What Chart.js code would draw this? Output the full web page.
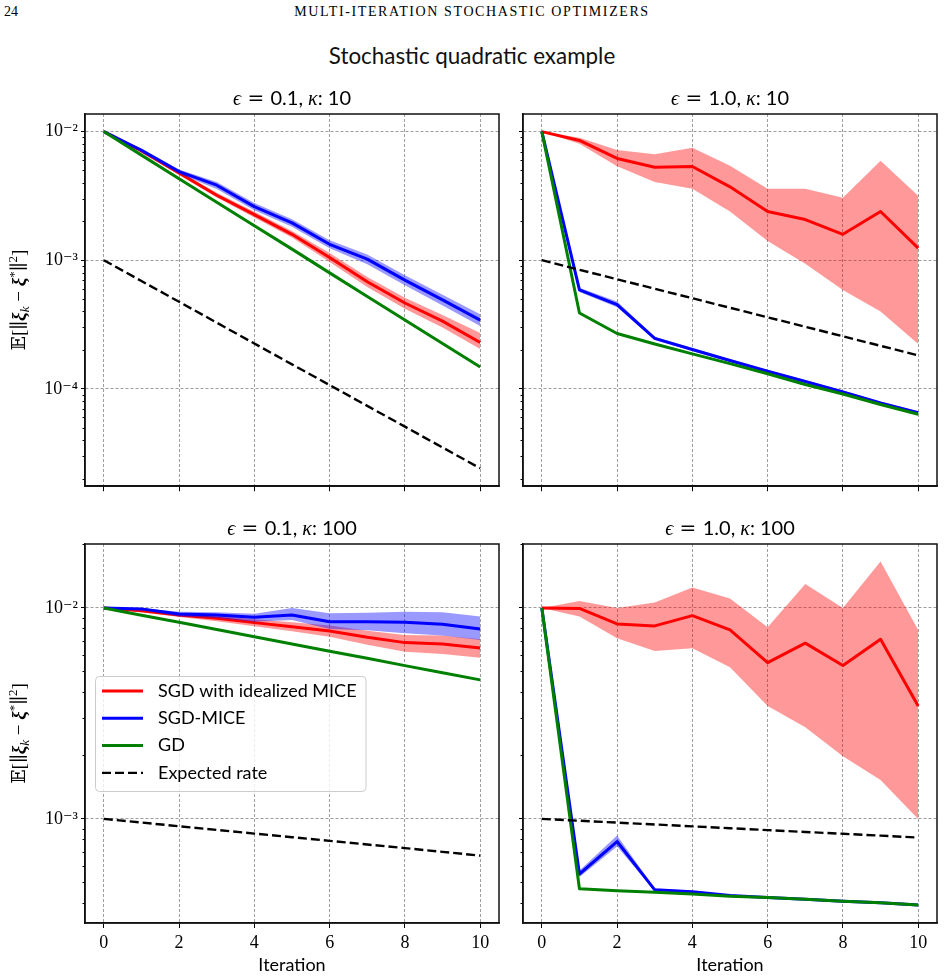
<!DOCTYPE html>
<html>
<head>
<meta charset="utf-8">
<title>Stochastic quadratic example</title>
<script src="https://cdn.jsdelivr.net/npm/chart.js@4/dist/chart.umd.min.js"></script>
<style>
  html, body { margin: 0; padding: 0; background: #fff; }
  body { position: relative; width: 944px; height: 978px; overflow: hidden; }
  canvas { position: absolute; }
  .head { position: absolute; top: 4px; font-family: "Liberation Serif", serif; font-size: 14px; line-height: 16px; color: #000; }
  #pageno { left: 4px; }
  #runhead { left: 0; width: 944px; text-align: center; letter-spacing: 1.6px; }
  #suptitle { position: absolute; left: 0; width: 944px; top: 43px; text-align: center; font-family: Lato, sans-serif; font-size: 22.4px; line-height: 26px; color: #111; }
</style>
</head>
<body>
<div class="head" id="pageno">24</div>
<div class="head" id="runhead">MULTI-ITERATION STOCHASTIC OPTIMIZERS</div>
<div id="suptitle">Stochastic quadratic example</div>
<canvas id="c0" width="510" height="430" style="left:0px;top:70px"></canvas>
<canvas id="c1" width="434" height="430" style="left:510px;top:70px"></canvas>
<canvas id="c2" width="510" height="478" style="left:0px;top:500px"></canvas>
<canvas id="c3" width="434" height="478" style="left:510px;top:500px"></canvas>
<script>
"use strict";

const iterations = [0, 1, 2, 3, 4, 5, 6, 7, 8, 9, 10];
const xTicks = [0, 2, 4, 6, 8, 10];
const decadeTicks = [1e-5, 1e-4, 1e-3, 1e-2, 1e-1];
const decadeLabels = ["10\u207B\u2075", "10\u207B\u2074", "10\u207B\u00B3", "10\u207B\u00B2", "10\u207B\u00B9"];
const epsilons = ["0.1", "1.0", "0.1", "1.0"];
const kappas = ["10", "10", "100", "100"];
const seriesNames = ["SGD with idealized MICE", "SGD-MICE", "GD", "Expected rate"];

// y limits of the two rows
const yLimitsTop = [1.75e-5, 1.37e-2];
const yLimitsBottom = [3.21e-4, 2.01e-2];

// eps = 0.1, kappa = 10
const ideal1 = [1.0e-2, 7.07e-3, 4.76e-3, 3.2e-3, 2.26e-3, 1.59e-3, 1.05e-3, 6.8e-4, 4.65e-4, 3.36e-4, 2.29e-4];
const idealLow1 = [1.0e-2, 6.9e-3, 4.6e-3, 3.07e-3, 2.15e-3, 1.5e-3, 9.7e-4, 6.2e-4, 4.2e-4, 3.0e-4, 2.04e-4];
const idealHigh1 = [1.0e-2, 7.25e-3, 4.92e-3, 3.34e-3, 2.38e-3, 1.69e-3, 1.14e-3, 7.4e-4, 5.1e-4, 3.75e-4, 2.72e-4];
const mice1 = [1.0e-2, 7.16e-3, 4.89e-3, 3.83e-3, 2.61e-3, 1.95e-3, 1.33e-3, 1.02e-3, 7.0e-4, 4.92e-4, 3.42e-4];
const miceLow1 = [1.0e-2, 6.95e-3, 4.7e-3, 3.58e-3, 2.45e-3, 1.82e-3, 1.24e-3, 9.3e-4, 6.4e-4, 4.45e-4, 3.08e-4];
const miceHigh1 = [1.0e-2, 7.38e-3, 5.08e-3, 4.05e-3, 2.78e-3, 2.08e-3, 1.43e-3, 1.11e-3, 7.65e-4, 5.4e-4, 3.8e-4];
const gd1 = [1.0e-2, 6.56e-3, 4.3e-3, 2.82e-3, 1.85e-3, 1.22e-3, 7.97e-4, 5.23e-4, 3.43e-4, 2.25e-4, 1.48e-4];
const rate1 = [1.0e-3, 6.89e-4, 4.75e-4, 3.27e-4, 2.25e-4, 1.55e-4, 1.07e-4, 7.37e-5, 5.08e-5, 3.5e-5, 2.41e-5];

// eps = 1.0, kappa = 10
const ideal2 = [1.0e-2, 8.53e-3, 6.18e-3, 5.28e-3, 5.35e-3, 3.72e-3, 2.39e-3, 2.07e-3, 1.59e-3, 2.39e-3, 1.24e-3];
const idealLow2 = [1.0e-2, 8.05e-3, 5.37e-3, 4.06e-3, 3.6e-3, 2.39e-3, 1.41e-3, 9.37e-4, 5.87e-4, 4.0e-4, 2.23e-4];
const idealHigh2 = [1.0e-2, 8.95e-3, 7.2e-3, 6.67e-3, 7.5e-3, 5.43e-3, 3.6e-3, 3.6e-3, 3.06e-3, 5.94e-3, 3.17e-3];
const mice2 = [1.0e-2, 5.87e-4, 4.51e-4, 2.47e-4, 2.02e-4, 1.66e-4, 1.37e-4, 1.14e-4, 9.44e-5, 7.78e-5, 6.52e-5];
const miceLow2 = [1.0e-2, 5.65e-4, 4.3e-4, 2.4e-4, 1.97e-4, 1.62e-4, 1.34e-4, 1.11e-4, 9.2e-5, 7.6e-5, 6.35e-5];
const miceHigh2 = [1.0e-2, 6.1e-4, 4.78e-4, 2.54e-4, 2.07e-4, 1.7e-4, 1.4e-4, 1.17e-4, 9.7e-5, 7.95e-5, 6.7e-5];
const gd2 = [1.0e-2, 3.89e-4, 2.69e-4, 2.23e-4, 1.87e-4, 1.57e-4, 1.31e-4, 1.08e-4, 9.11e-5, 7.55e-5, 6.34e-5];
const rate2 = [1.0e-3, 8.43e-4, 7.11e-4, 6.0e-4, 5.06e-4, 4.27e-4, 3.6e-4, 3.04e-4, 2.56e-4, 2.16e-4, 1.82e-4];

// eps = 0.1, kappa = 100
const ideal3 = [1.0e-2, 9.71e-3, 9.27e-3, 8.93e-3, 8.52e-3, 8.15e-3, 7.78e-3, 7.26e-3, 6.85e-3, 6.75e-3, 6.46e-3];
const idealLow3 = [1.0e-2, 9.55e-3, 9.05e-3, 8.65e-3, 8.2e-3, 7.75e-3, 7.3e-3, 6.7e-3, 6.2e-3, 6.05e-3, 5.8e-3];
const idealHigh3 = [1.0e-2, 9.87e-3, 9.5e-3, 9.2e-3, 8.85e-3, 8.55e-3, 8.25e-3, 7.8e-3, 7.45e-3, 7.4e-3, 7.1e-3];
const mice3 = [1.0e-2, 9.9e-3, 9.36e-3, 9.27e-3, 9.03e-3, 9.27e-3, 8.61e-3, 8.61e-3, 8.56e-3, 8.37e-3, 7.95e-3];
const miceLow3 = [1.0e-2, 9.75e-3, 9.1e-3, 8.95e-3, 8.6e-3, 8.77e-3, 7.95e-3, 7.85e-3, 7.58e-3, 7.4e-3, 7.05e-3];
const miceHigh3 = [1.0e-2, 1.0e-2, 9.6e-3, 9.55e-3, 9.4e-3, 1.0e-2, 9.44e-3, 9.5e-3, 9.6e-3, 9.55e-3, 9.1e-3];
const gd3 = [1.0e-2, 9.24e-3, 8.55e-3, 7.9e-3, 7.3e-3, 6.75e-3, 6.24e-3, 5.77e-3, 5.33e-3, 4.93e-3, 4.56e-3];
const rate3 = [1.0e-3, 9.61e-4, 9.23e-4, 8.87e-4, 8.52e-4, 8.19e-4, 7.87e-4, 7.56e-4, 7.27e-4, 6.98e-4, 6.7e-4];

// eps = 1.0, kappa = 100
const ideal4 = [1.0e-2, 9.95e-3, 8.4e-3, 8.22e-3, 9.2e-3, 7.87e-3, 5.51e-3, 6.81e-3, 5.34e-3, 7.1e-3, 3.43e-3];
const idealLow4 = [1.0e-2, 9.12e-3, 7.18e-3, 6.25e-3, 6.44e-3, 5.24e-3, 3.43e-3, 2.72e-3, 1.98e-3, 1.53e-3, 1.0e-3];
const idealHigh4 = [1.0e-2, 1.08e-2, 1.0e-2, 1.06e-2, 1.25e-2, 1.11e-2, 8.1e-3, 1.3e-2, 1.0e-2, 1.66e-2, 7.87e-3];
const mice4 = [1.0e-2, 5.48e-4, 7.81e-4, 4.61e-4, 4.52e-4, 4.33e-4, 4.24e-4, 4.16e-4, 4.07e-4, 4.0e-4, 3.91e-4];
const miceLow4 = [1.0e-2, 5.3e-4, 7.4e-4, 4.55e-4, 4.47e-4, 4.29e-4, 4.2e-4, 4.12e-4, 4.03e-4, 3.96e-4, 3.87e-4];
const miceHigh4 = [1.0e-2, 5.7e-4, 8.35e-4, 4.68e-4, 4.57e-4, 4.38e-4, 4.28e-4, 4.2e-4, 4.11e-4, 4.04e-4, 3.95e-4];
const gd4 = [1.0e-2, 4.66e-4, 4.57e-4, 4.49e-4, 4.4e-4, 4.3e-4, 4.24e-4, 4.16e-4, 4.07e-4, 4.0e-4, 3.91e-4];
const rate4 = [1.0e-3, 9.8e-4, 9.6e-4, 9.41e-4, 9.22e-4, 9.03e-4, 8.85e-4, 8.67e-4, 8.5e-4, 8.33e-4, 8.16e-4];

const panels = [
  { ideal: ideal1, idealLow: idealLow1, idealHigh: idealHigh1, mice: mice1, miceLow: miceLow1, miceHigh: miceHigh1, gd: gd1, rate: rate1 },
  { ideal: ideal2, idealLow: idealLow2, idealHigh: idealHigh2, mice: mice2, miceLow: miceLow2, miceHigh: miceHigh2, gd: gd2, rate: rate2 },
  { ideal: ideal3, idealLow: idealLow3, idealHigh: idealHigh3, mice: mice3, miceLow: miceLow3, miceHigh: miceHigh3, gd: gd3, rate: rate3 },
  { ideal: ideal4, idealLow: idealLow4, idealHigh: idealHigh4, mice: mice4, miceLow: miceLow4, miceHigh: miceHigh4, gd: gd4, rate: rate4 },
];

// canvas geometry: y axis width, top pad, right pad, x axis height
const layouts = [
  { yAxisW: 85, padTop: 44, padRight: 11, xAxisH: 7, limits: yLimitsTop, left: true, bottom: false },
  { yAxisW: 13, padTop: 44, padRight: 7, xAxisH: 7, limits: yLimitsTop, left: false, bottom: false },
  { yAxisW: 85, padTop: 44, padRight: 11, xAxisH: 55, limits: yLimitsBottom, left: true, bottom: true },
  { yAxisW: 13, padTop: 44, padRight: 7, xAxisH: 55, limits: yLimitsBottom, left: false, bottom: true },
];

Chart.defaults.font.family = "Lato";
Chart.defaults.color = "#000";

const serif = '"Liberation Serif", "DejaVu Serif", serif';
const gridColor = "rgba(0,0,0,0.38)";

function points(values) {
  return iterations.map((it, i) => ({ x: it, y: values[i] }));
}

function bandSet(label, values, color, fill, order) {
  return {
    label: label, data: points(values), borderWidth: 0, borderColor: "transparent",
    backgroundColor: color, pointRadius: 0, fill: fill, order: order,
  };
}

function lineSet(label, values, color, width, dash, order) {
  return {
    label: label, data: points(values), borderColor: color, borderWidth: width,
    borderDash: dash, borderJoinStyle: "round", pointRadius: 0, fill: false,
    order: order, inLegend: true,
  };
}

function buildDatasets(p) {
  return [
    bandSet("ideal low", p.idealLow, "rgba(255,0,0,0.4)", false, 8),
    bandSet("ideal high", p.idealHigh, "rgba(255,0,0,0.4)", "-1", 7),
    lineSet(seriesNames[0], p.ideal, "#ff0000", 3, [], 6),
    bandSet("mice low", p.miceLow, "rgba(0,0,255,0.4)", false, 5),
    bandSet("mice high", p.miceHigh, "rgba(0,0,255,0.4)", "-1", 4),
    lineSet(seriesNames[1], p.mice, "#0000ff", 3, [], 3),
    lineSet(seriesNames[2], p.gd, "#008000", 3, [], 2),
    lineSet(seriesNames[3], p.rate, "#000000", 2.4, [9, 4], 1),
  ];
}

function drawRuns(ctx, runs, x, y, align) {
  let total = 0;
  for (let r of runs) {
    ctx.font = r.font;
    total += ctx.measureText(r.text).width;
  }
  let cx = align === "center" ? x - total / 2 : x;
  ctx.textAlign = "left";
  ctx.textBaseline = "alphabetic";
  for (let r of runs) {
    ctx.font = r.font;
    ctx.fillText(r.text, cx, y + (r.dy || 0));
    cx += ctx.measureText(r.text).width;
  }
}

function makeDecor(idx) {
  let lay = layouts[idx];
  return {
    id: "decor" + idx,
    afterDraw(chart) {
      let ctx = chart.ctx;
      let area = chart.chartArea;
      let yScale = chart.scales.y;
      ctx.save();
      ctx.fillStyle = "#000";

      // minor log ticks
      ctx.strokeStyle = "#000";
      ctx.lineWidth = 1;
      for (let d = -6; d <= 0; d++) {
        for (let m = 2; m <= 9; m++) {
          let v = m * Math.pow(10, d);
          if (v < yScale.min || v > yScale.max) continue;
          let py = Math.round(yScale.getPixelForValue(v)) + 0.5;
          ctx.beginPath();
          ctx.moveTo(area.left - 2.5, py);
          ctx.lineTo(area.left, py);
          ctx.stroke();
        }
      }

      // axes frame
      ctx.lineWidth = 1.5;
      ctx.strokeStyle = "#111";
      ctx.strokeRect(area.left, area.top, area.right - area.left, area.bottom - area.top);

      // panel title
      let ts = 20;
      drawRuns(ctx, [
        { text: "\u03F5", font: "italic " + ts + "px " + serif },
        { text: " = ", font: ts + "px \"DejaVu Serif\"" },
        { text: epsilons[idx] + ", ", font: ts + "px Lato" },
        { text: "\u03BA", font: "italic " + ts + "px " + serif },
        { text: ": " + kappas[idx], font: ts + "px Lato" },
      ], (area.left + area.right) / 2, area.top - 9, "center");

      // y axis label
      if (lay.left) {
        let fs = 19, small = 13;
        ctx.save();
        ctx.translate(area.left - 60, (area.top + area.bottom) / 2);
        ctx.rotate(-Math.PI / 2);
        drawRuns(ctx, [
          { text: "\uD835\uDD3C[", font: fs + "px " + serif },
          { text: "\u2225", font: fs + "px \"DejaVu Serif\"" },
          { text: "\u03BE", font: "bold italic " + fs + "px " + serif },
          { text: "k", font: "italic " + small + "px " + serif, dy: 4 },
          { text: " \u2212 ", font: fs + "px " + serif },
          { text: "\u03BE", font: "bold italic " + fs + "px " + serif },
          { text: "*", font: small + "px " + serif, dy: -7 },
          { text: "\u2225", font: fs + "px \"DejaVu Serif\"" },
          { text: "2", font: small + "px " + serif, dy: -8 },
          { text: "]", font: fs + "px " + serif },
        ], 0, 0, "center");
        ctx.restore();
      }

      // legend inside lower left panel
      if (idx === 2) {
        let items = chart.data.datasets.filter((ds) => ds.inLegend);
        let lf = "18px Lato";
        ctx.font = lf;
        let maxW = 0;
        for (let it of items) maxW = Math.max(maxW, ctx.measureText(it.label).width);
        let bx = area.left + 10, by = area.top + 132;
        let bw = 63 + maxW + 9, bh = 115;
        ctx.beginPath();
        if (ctx.roundRect) ctx.roundRect(bx + 0.5, by + 0.5, bw, bh, 4);
        else ctx.rect(bx + 0.5, by + 0.5, bw, bh);
        ctx.fillStyle = "rgba(255,255,255,0.8)";
        ctx.fill();
        ctx.lineWidth = 1;
        ctx.strokeStyle = "#cccccc";
        ctx.stroke();
        items.forEach((it, i) => {
          let ry = by + 15 + i * 27.3;
          ctx.beginPath();
          ctx.setLineDash(it.borderDash || []);
          ctx.lineWidth = it.borderWidth;
          ctx.strokeStyle = it.borderColor;
          ctx.moveTo(bx + 7, ry);
          ctx.lineTo(bx + 48, ry);
          ctx.stroke();
          ctx.setLineDash([]);
          ctx.fillStyle = "#000";
          ctx.font = lf;
          ctx.textAlign = "left";
          ctx.textBaseline = "middle";
          ctx.fillText(it.label, bx + 63, ry);
        });
      }
      ctx.restore();
    },
  };
}

function decadeLabel(v) {
  for (let i = 0; i < decadeTicks.length; i++) {
    if (Math.abs(Math.log10(v) - Math.log10(decadeTicks[i])) < 1e-6) return decadeLabels[i];
  }
  return "";
}

function renderPanel(idx) {
  let lay = layouts[idx];
  let yMin = lay.limits[0], yMax = lay.limits[1];
  let ctx = document.getElementById("c" + idx);
  return new Chart(ctx, {
    type: "line",
    data: { datasets: buildDatasets(panels[idx]) },
    options: {
      responsive: false,
      animation: false,
      devicePixelRatio: 1,
      layout: { padding: { top: lay.padTop, right: lay.padRight, left: 0, bottom: 0 } },
      plugins: { legend: { display: false }, tooltip: { enabled: false }, title: { display: false } },
      scales: {
        x: {
          type: "linear",
          bounds: "data",
          min: -0.5,
          max: 10.5,
          afterBuildTicks: (scale) => { scale.ticks = xTicks.map((v) => ({ value: v })); },
          afterFit: (scale) => { scale.height = lay.xAxisH; },
          grid: { color: gridColor, lineWidth: 1, tickLength: 5, tickColor: "#000", tickWidth: 1 },
          border: { display: true, color: "#111", width: 1.5, dash: [3, 2] },
          ticks: {
            autoSkip: false, maxRotation: 0, padding: 4, color: "#000",
            font: { family: serif, size: 18 },
            callback: (v) => (lay.bottom ? String(v) : ""),
          },
          title: {
            display: lay.bottom, text: "Iteration", color: "#000",
            font: { family: "Lato", size: 18 }, padding: { top: 0, bottom: 2 },
          },
        },
        y: {
          type: "logarithmic",
          bounds: "data",
          min: yMin,
          max: yMax,
          afterBuildTicks: (scale) => {
            scale.ticks = decadeTicks.filter((v) => v >= yMin && v <= yMax).map((v) => ({ value: v }));
          },
          afterFit: (scale) => { scale.width = lay.yAxisW; },
          grid: { color: gridColor, lineWidth: 1, tickLength: 4, tickColor: "#000", tickWidth: 1 },
          border: { display: true, color: "#111", width: 1.5, dash: [3, 2] },
          ticks: {
            autoSkip: false, padding: 3, color: "#000",
            font: { family: serif, size: 18 },
            callback: (v) => (lay.left ? decadeLabel(v) : ""),
          },
        },
      },
    },
    plugins: [makeDecor(idx)],
  });
}

for (let i = 0; i < 4; i++) renderPanel(i);
</script>
</body>
</html>
